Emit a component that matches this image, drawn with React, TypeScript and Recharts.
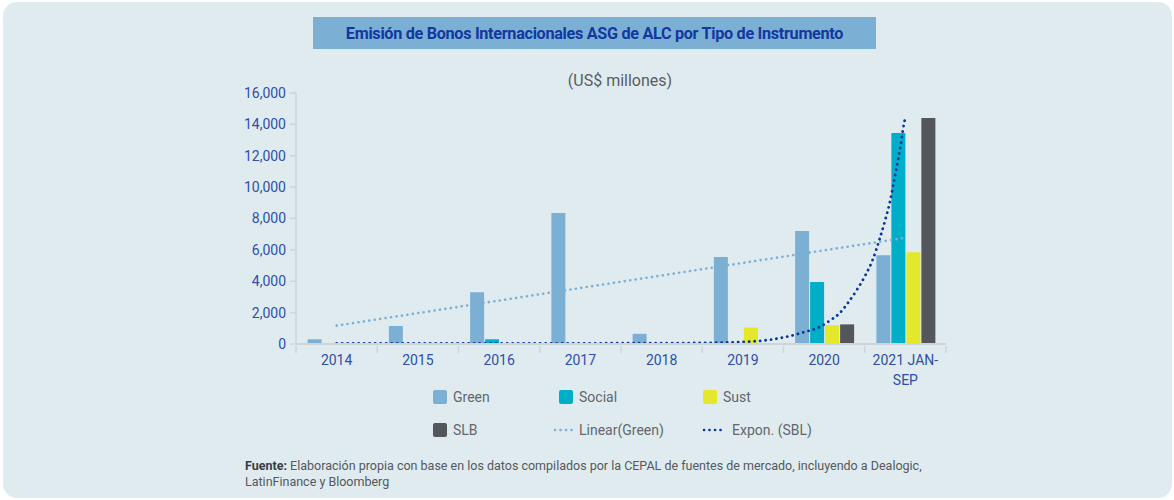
import { ComposedChart, Bar, Line, XAxis, YAxis } from 'recharts';

const categories = ['2014', '2015', '2016', '2017', '2018', '2019', '2020', '2021 JAN-SEP'];
const green = [300, 1150, 3300, 8350, 650, 5550, 7200, 5650];
const social = [null, null, 300, null, null, null, 3950, 13450];
const sust = [null, null, null, null, null, 1050, 1200, 5850];
const slb = [null, null, null, null, null, null, 1250, 14400];
const yTicks = [0, 2000, 4000, 6000, 8000, 10000, 12000, 14000, 16000];

// trend lines, x = category position (2014 = 0)
const linearX = [0, 7];
const linearV = [1170, 6770];
const exponX = [0, 1, 2, 3, 4, 4.5, 5, 5.48, 5.75, 5.95, 6.07, 6.19, 6.28, 6.4, 6.51, 6.6, 6.69, 6.75, 6.82, 6.86, 6.9, 6.94, 6.97, 7];
const exponV = [40, 40, 40, 45, 50, 70, 130, 400, 750, 1100, 1490, 1960, 2530, 3430, 4400, 5400, 6810, 7870, 9300, 10400, 11470, 12590, 13660, 14450];

const COLORS = { green: '#7bafd4', social: '#00aec7', sust: '#e4e82a', slb: '#53565a', linear: '#7bafd4', expon: '#0a34a0' };
const AXIS_TEXT = '#2e4fa6';
const AXIS_LINE = '#cdd5d9';

const data = categories.map((c, i) => ({ year: c, green: green[i], social: social[i], sust: sust[i], slb: slb[i] }));
const linearData = linearX.map((x, i) => ({ x, v: linearV[i] }));
const exponData = exponX.map((x, i) => ({ x, v: exponV[i] }));

const W = 740, H = 320;
const M = { top: 13, right: 24, left: 0, bottom: 16 };
const Y_W = 66;
const BAND = (W - M.left - M.right - Y_W) / categories.length;

const legend = [
  { name: 'Green', color: COLORS.green, kind: 'box', left: 433, top: 397 },
  { name: 'Social', color: COLORS.social, kind: 'box', left: 559, top: 397 },
  { name: 'Sust', color: COLORS.sust, kind: 'box', left: 703, top: 397 },
  { name: 'SLB', color: COLORS.slb, kind: 'box', left: 433, top: 430 },
  { name: 'Linear(Green)', color: COLORS.linear, kind: 'dots', left: 553, top: 430 },
  { name: 'Expon. (SBL)', color: COLORS.expon, kind: 'dots', left: 702, top: 430 },
];

// eslint-disable-next-line @typescript-eslint/no-explicit-any
const XTick = ({ x, y, payload, index }: any) => {
  const parts = String(payload.value).split(/(?<=-)/);
  const last = index === categories.length - 1;
  return (
    <g>
      <line x1={x - BAND / 2} x2={x - BAND / 2} y1={y} y2={y + 7} stroke={AXIS_LINE} strokeWidth={1.5} />
      {last && <line x1={x + BAND / 2} x2={x + BAND / 2} y1={y} y2={y + 7} stroke={AXIS_LINE} strokeWidth={1.5} />}
      <text x={x} y={y + 19} textAnchor="middle" fill={AXIS_TEXT} fontSize={14}>
        {parts.map((p, i) => (
          <tspan key={i} x={x} dy={i ? 20 : 0}>{p}</tspan>
        ))}
      </text>
    </g>
  );
};

export default function App() {
  return (
    <div style={{ position: 'absolute', left: 0, top: 0, width: 1174, height: 500, background: '#fff', fontFamily: 'Roboto, sans-serif' }}>
      <div style={{ position: 'absolute', left: 3, top: 2, width: 1169, height: 496, borderRadius: 14, background: '#e0ebf0' }} />
      <div style={{
        position: 'absolute', left: 313, top: 17, width: 563, height: 32, background: '#7bafd4',
        display: 'flex', alignItems: 'center', justifyContent: 'center',
        color: '#1238a0', fontWeight: 700, fontSize: 16.2, letterSpacing: -0.3,
      }}>
        Emisión de Bonos Internacionales ASG de ALC por Tipo de Instrumento
      </div>
      <div style={{ position: 'absolute', left: 520, top: 71, width: 200, textAlign: 'center', color: '#5a5d61', fontSize: 16 }}>
        (US$ millones)
      </div>
      <div style={{ position: 'absolute', left: 230, top: 80 }}>
        <ComposedChart width={W} height={H} data={data} margin={M} barCategoryGap="14.3%" barGap={1}>
          <XAxis
            dataKey="year"
            axisLine={{ stroke: AXIS_LINE, strokeWidth: 2 }}
            tickLine={false}
            tickSize={0}
            tick={<XTick />}
            interval={0}
            height={40}
          />
          <XAxis xAxisId="t" type="number" dataKey="x" domain={[-0.5, 7.5]} allowDataOverflow hide />
          <YAxis
            domain={[0, 16000]}
            ticks={yTicks}
            width={Y_W}
            axisLine={{ stroke: AXIS_LINE, strokeWidth: 1.5 }}
            tickLine={{ stroke: AXIS_LINE, strokeWidth: 1.5 }}
            tickSize={6}
            tickMargin={4}
            tick={{ fill: AXIS_TEXT, fontSize: 14 }}
            tickFormatter={v => v.toLocaleString('en-US')}
          />
          <Bar dataKey="green" fill={COLORS.green} isAnimationActive={false} />
          <Bar dataKey="social" fill={COLORS.social} isAnimationActive={false} />
          <Bar dataKey="sust" fill={COLORS.sust} isAnimationActive={false} />
          <Bar dataKey="slb" fill={COLORS.slb} isAnimationActive={false} />
          <Line
            xAxisId="t" data={linearData} dataKey="v" type="linear"
            stroke={COLORS.linear} strokeWidth={2.6} strokeDasharray="0.1 5.4" strokeLinecap="round"
            dot={false} activeDot={false} isAnimationActive={false}
          />
          <Line
            xAxisId="t" data={exponData} dataKey="v" type="monotone"
            stroke={COLORS.expon} strokeWidth={2.8} strokeDasharray="0.1 5.4" strokeLinecap="round"
            dot={false} activeDot={false} isAnimationActive={false}
          />
        </ComposedChart>
      </div>
      {legend.map(l => (
        <div key={l.name} style={{ position: 'absolute', left: l.left, top: l.top - 9, height: 18, display: 'flex', alignItems: 'center', color: '#63676b', fontSize: 14 }}>
          {l.kind === 'box'
            ? <span style={{ width: 14, height: 14, borderRadius: 2, background: l.color, marginRight: 6 }} />
            : (
              <svg width={22} height={6} style={{ marginRight: l.name.startsWith('Expon') ? 8 : 4 }}>
                <line x1={2} x2={21} y1={3} y2={3} stroke={l.color} strokeWidth={2.6} strokeDasharray="0.1 5.4" strokeLinecap="round" />
              </svg>
            )}
          <span>{l.name}</span>
        </div>
      ))}
      <div style={{ position: 'absolute', left: 245, top: 458, color: '#55585c', fontSize: 12.5, lineHeight: '16px' }}>
        <b style={{ color: '#3a3d40' }}>Fuente:</b> Elaboración propia con base en los datos compilados por la CEPAL de fuentes de mercado, incluyendo a Dealogic,
        <br />
        LatinFinance y Bloomberg
      </div>
    </div>
  );
}
